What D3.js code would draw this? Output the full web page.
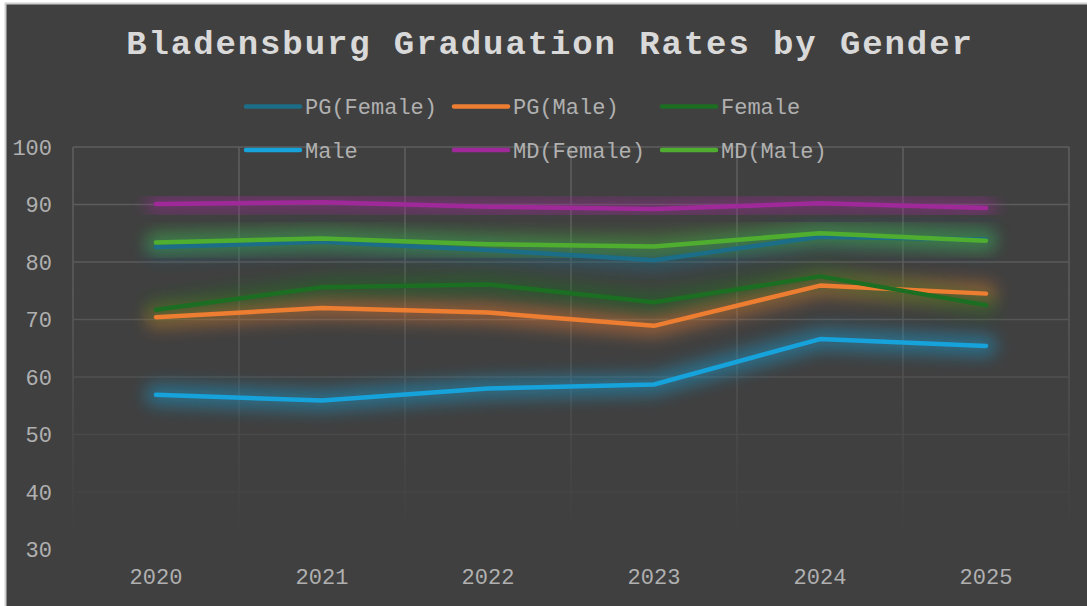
<!DOCTYPE html>
<html>
<head>
<meta charset="utf-8">
<script src="https://cdn.jsdelivr.net/npm/d3@7"></script>
<style>
  html, body { margin: 0; padding: 0; background: #fff; }
  svg { display: block; }
</style>
</head>
<body>
<div id="chart"></div>
<script>
// data
const years = ["2020", "2021", "2022", "2023", "2024", "2025"];
const seriesNames = ["PG(Female)", "PG(Male)", "Female", "Male", "MD(Female)", "MD(Male)"];
const pgFemale = [82.6, 83.5, 82.1, 80.3, 84.4, 83.9];
const pgMale = [70.4, 72.0, 71.2, 68.9, 75.9, 74.5];
const female = [71.7, 75.6, 76.1, 73.0, 77.5, 72.5];
const male = [56.9, 55.9, 58.0, 58.7, 66.6, 65.4];
const mdFemale = [90.1, 90.4, 89.6, 89.2, 90.2, 89.4];
const mdMale = [83.4, 84.1, 83.1, 82.7, 85.0, 83.7];
const yTicks = [30, 40, 50, 60, 70, 80, 90, 100];
const colors = ["#1b6d88", "#ed7d31", "#1c6e22", "#16a2da", "#a0299a", "#4fae30"];

const series = [pgFemale, pgMale, female, male, mdFemale, mdMale].map((values, i) => ({
  name: seriesNames[i],
  color: colors[i],
  values: values.map((v, j) => ({ year: years[j], value: v })),
}));

const W = 1087, H = 606;
const plot = { left: 73, right: 1069, top: 147, bottom: 549.5 };
const font = "'Liberation Mono', 'Courier New', monospace";
const textColor = "#d9d9d9";
const axisColor = "#b0b0b0";

const svg = d3.select("#chart").append("svg").attr("width", W).attr("height", H);
const defs = svg.append("defs");

// fading grid toward the bottom
const grad = defs.append("linearGradient")
  .attr("id", "gridFade").attr("gradientUnits", "userSpaceOnUse")
  .attr("x1", 0).attr("x2", 0).attr("y1", plot.top).attr("y2", 540);
grad.append("stop").attr("offset", 0).attr("stop-color", "#fff").attr("stop-opacity", 1);
grad.append("stop").attr("offset", 0.4).attr("stop-color", "#fff").attr("stop-opacity", 0.85);
grad.append("stop").attr("offset", 0.75).attr("stop-color", "#fff").attr("stop-opacity", 0.3);
grad.append("stop").attr("offset", 1).attr("stop-color", "#fff").attr("stop-opacity", 0);
defs.append("mask").attr("id", "gridMask").attr("maskUnits", "userSpaceOnUse")
  .attr("x", 0).attr("y", 0).attr("width", W).attr("height", H)
  .append("rect").attr("x", 0).attr("y", 0).attr("width", W).attr("height", H)
  .attr("fill", "url(#gridFade)");

defs.append("filter").attr("id", "glow")
  .attr("x", "-10%").attr("y", "-80%").attr("width", "120%").attr("height", "260%")
  .append("feGaussianBlur").attr("stdDeviation", 8);

// background + frame
svg.append("rect").attr("x", 0).attr("y", 0).attr("width", W).attr("height", H).attr("fill", "#fff");
svg.append("rect")
  .attr("x", 5.5).attr("y", 3.5).attr("width", W).attr("height", H)
  .attr("fill", "#404040").attr("stroke", "#d0d0d0").attr("stroke-width", 2);

const x = d3.scaleBand().domain(years).range([plot.left, plot.right]);
const y = d3.scaleLinear().domain([30, 100]).range([plot.bottom, plot.top]);

// gridlines
const grid = svg.append("g").attr("mask", "url(#gridMask)")
  .attr("stroke", "#5e5e5e").attr("stroke-width", 1.6);
grid.selectAll(".h").data(yTicks).join("line")
  .attr("x1", plot.left).attr("x2", plot.right)
  .attr("y1", (d) => y(d)).attr("y2", (d) => y(d));
const xEdges = years.map((d) => x(d)).concat([plot.right]);
grid.selectAll(".v").data(xEdges).join("line")
  .attr("x1", (d) => d).attr("x2", (d) => d)
  .attr("y1", plot.top).attr("y2", plot.bottom);

// y axis
const yAxis = svg.append("g")
  .attr("transform", "translate(52,0)")
  .call(d3.axisLeft(y).tickValues(yTicks).tickSize(0).tickPadding(0));
yAxis.select(".domain").remove();
yAxis.selectAll("text")
  .attr("font-family", font).attr("font-size", 22).attr("fill", axisColor);

// x axis
const xAxis = svg.append("g")
  .attr("transform", "translate(0,568)")
  .call(d3.axisBottom(x).tickSize(0).tickPadding(0));
xAxis.select(".domain").remove();
xAxis.selectAll("text")
  .attr("font-family", font).attr("font-size", 22).attr("fill", axisColor);

const line = d3.line()
  .x((d) => x(d.year) + x.bandwidth() / 2)
  .y((d) => y(d.value));

// glow + lines
series.forEach((s) => {
  svg.append("path")
    .attr("d", line(s.values))
    .attr("fill", "none")
    .attr("stroke", s.color)
    .attr("stroke-width", 22)
    .attr("stroke-linecap", "round")
    .attr("stroke-linejoin", "round")
    .attr("opacity", 0.45)
    .attr("filter", "url(#glow)");
});
series.forEach((s) => {
  svg.append("path")
    .attr("d", line(s.values))
    .attr("fill", "none")
    .attr("stroke", s.color)
    .attr("stroke-width", 4.5)
    .attr("stroke-linecap", "round")
    .attr("stroke-linejoin", "round");
});

// title
svg.append("text")
  .attr("x", 550).attr("y", 54)
  .attr("text-anchor", "middle")
  .attr("font-family", font).attr("font-weight", "bold")
  .attr("font-size", 34).attr("letter-spacing", 1.9)
  .attr("fill", textColor)
  .text("Bladensburg Graduation Rates by Gender");

// legend
const legendCols = [246, 454, 662];
const legendRows = [106.5, 150];
const legend = svg.append("g");
series.forEach((s, i) => {
  const lx = legendCols[i % 3], ly = legendRows[Math.floor(i / 3)];
  legend.append("line")
    .attr("x1", lx).attr("x2", lx + 54).attr("y1", ly).attr("y2", ly)
    .attr("stroke", s.color).attr("stroke-width", 4.5).attr("stroke-linecap", "round");
  legend.append("text")
    .attr("x", lx + 59).attr("y", ly)
    .attr("dy", "0.35em")
    .attr("font-family", font).attr("font-size", 22)
    .attr("fill", axisColor)
    .text(s.name);
});
</script>
</body>
</html>
